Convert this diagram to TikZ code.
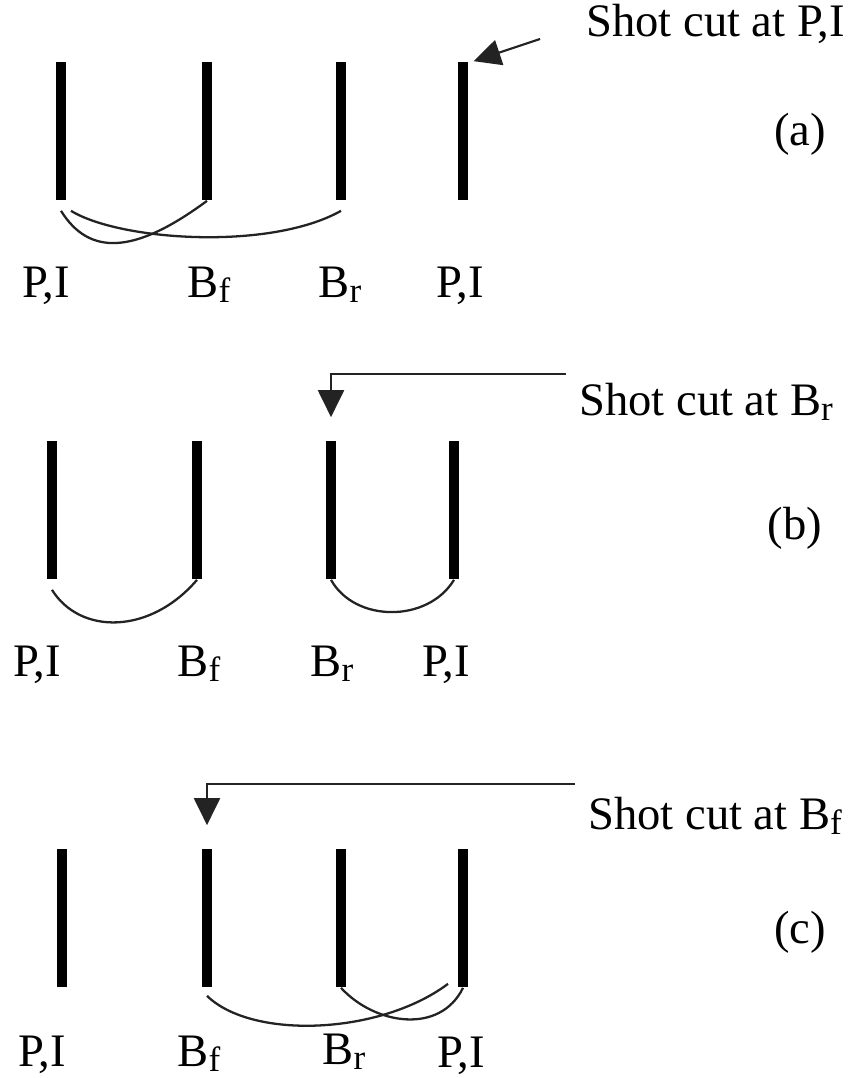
\documentclass[tikz,border=0pt]{standalone}
\usepackage{fontspec}
\setmainfont{Liberation Serif}
\usepackage{tikz}
\usetikzlibrary{arrows.meta}
\definecolor{wire}{RGB}{35,35,35}
\newcommand{\lowidx}[1]{\raisebox{-3pt}{\fontsize{20}{20}\selectfont #1}}

\begin{document}
\begin{tikzpicture}[
    x=0.02cm, y=-0.02cm,
    bar/.style={rectangle, fill=black, inner sep=0pt, minimum width=0.21cm, minimum height=2.78cm},
    tag/.style={inner sep=0pt, anchor=base, font=\fontsize{26.5}{30}\selectfont},
    note/.style={inner sep=0pt, anchor=base west, font=\fontsize{26.5}{30}\selectfont},
    panel/.style={inner sep=0pt, font=\fontsize{26.5}{30}\selectfont},
    link/.style={draw=wire, line width=1.3pt},
    arrowstyle/.style={-{Triangle[length=0.54cm, width=0.52cm]}, draw=wire, line width=1.2pt}
]
\useasboundingbox (0,0) rectangle (858,1078);

% (a) shot cut at P,I
\node[bar] (a1) at (61,131) {};
\node[bar] (a2) at (207,131) {};
\node[bar] (a3) at (341,131) {};
\node[bar] (a4) at (463,131) {};
\node[tag] (la1) at (46,297) {P,I};
\node[tag] (la2) at (209,297) {B\lowidx{f}};
\node[tag] (la3) at (340,297) {B\lowidx{r}};
\node[tag] (la4) at (460,297) {P,I};
\node[note] (cutA) at (586,37) {Shot cut at P,I};
\node[panel] (capA) at (800,134) {(a)};
\coordinate (tailA) at (540,39);

\draw[link] ([yshift=-0.2cm]a1.south) .. controls +(28,45) and +(-73,54) .. (a2.south);
\draw[link] ([xshift=0.2cm,yshift=-0.2cm]a1.south) .. controls +(49,30) and +(-71,40) .. ([yshift=-0.2cm]a3.south);
\draw[arrowstyle] (tailA) -- ([xshift=0.1cm]a4.north east);

% (b) shot cut at Br
\node[bar] (b1) at (52,510) {};
\node[bar] (b2) at (197,510) {};
\node[bar] (b3) at (331,510) {};
\node[bar] (b4) at (454,510) {};
\node[tag] (lb1) at (37,676) {P,I};
\node[tag] (lb2) at (199,676) {B\lowidx{f}};
\node[tag] (lb3) at (332,676) {B\lowidx{r}};
\node[tag] (lb4) at (446,676) {P,I};
\node[note] (cutB) at (579,415) {Shot cut at B\lowidx{r}};
\node[panel] (capB) at (795,528) {(b)};
\coordinate (tailB) at (566,374);

\draw[link] ([yshift=-0.2cm]b1.south) .. controls +(28,45) and +(-47,55) .. (b2.south);
\draw[link] (b3.south) .. controls +(24,43) and +(-26,43) .. (b4.south);
\draw[arrowstyle] (tailB) -| ([yshift=0.46cm]b3.north);

% (c) shot cut at Bf
\node[bar] (c1) at (62,918) {};
\node[bar] (c2) at (207,918) {};
\node[bar] (c3) at (341,918) {};
\node[bar] (c4) at (463,918) {};
\node[tag] (lc1) at (42,1066) {P,I};
\node[tag] (lc2) at (199,1066) {B\lowidx{f}};
\node[tag] (lc3) at (344,1064) {B\lowidx{r}};
\node[tag] (lc4) at (461,1067) {P,I};
\node[note] (cutC) at (588,829) {Shot cut at B\lowidx{f}};
\node[panel] (capC) at (800,932) {(c)};
\coordinate (tailC) at (575,784);

\draw[link] ([yshift=-0.16cm]c2.south) .. controls +(45,44) and +(-68,51) .. ([xshift=-0.3cm,yshift=0.08cm]c4.south);
\draw[link] (c3.south) .. controls +(34,37) and +(-23,47) .. (c4.south);
\draw[arrowstyle] (tailC) -| ([yshift=0.46cm]c2.north);
\end{tikzpicture}
\end{document}
